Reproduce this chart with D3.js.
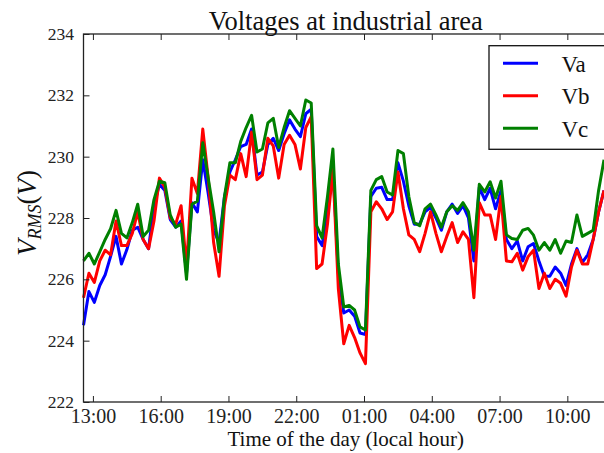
<!DOCTYPE html>
<html>
<head>
<meta charset="utf-8">
<script src="https://cdn.jsdelivr.net/npm/d3@7"></script>
<style>
  body { margin: 0; background: #fff; }
  svg { display: block; font-family: "Liberation Serif", serif; }
  .axis text { font-family: "Liberation Serif", serif; fill: #222; }
  .axis line { stroke: #222; }
</style>
</head>
<body>
<div id="chart"></div>
<script>
// sample grid of the logger (first sample, minutes between samples)
const startTime = new Date(2016, 0, 1, 12, 35);
const stepMinutes = 14.4;
const axisEnd = new Date(2016, 0, 2, 11, 48);

const yTicks = [222, 224, 226, 228, 230, 232, 234];
const xTickHours = [13, 16, 19, 22, 1, 4, 7, 10];

const seriesNames = ['Va', 'Vb', 'Vc'];
const seriesColors = ['#0000ff', '#ff0000', '#008000'];

const va = [224.5, 225.6, 225.25, 225.8, 226.15, 226.75, 227.4, 226.5, 226.97, 227.6,
  227.7, 227.3, 227.0, 228.4, 229.1, 228.9, 227.95, 227.7, 227.9, 226.2,
  228.5, 228.2, 229.9, 228.8, 227.6, 227.2, 228.7, 229.5, 229.9, 230.33,
  230.4, 230.9, 229.4, 229.5, 230.4, 230.6, 230.2, 230.75, 231.2, 230.9,
  230.65, 231.4, 231.55, 227.4, 227.1, 228.2, 229.65, 226.2, 224.9, 225.0,
  224.8, 224.25, 224.2, 228.7, 228.97, 229.0, 228.6, 228.6, 229.8, 229.2,
  228.4, 227.8, 227.8, 228.2, 228.35, 228.0, 227.6, 228.2, 228.45, 228.15,
  228.4, 228.0, 226.6, 229.0, 228.6, 228.97, 228.3, 228.9, 227.3, 227.0,
  227.25, 226.6, 227.06, 227.17, 226.6, 226.1, 226.1, 226.4, 226.2, 225.8,
  226.5, 227.0, 226.55, 226.8, 227.3, 228.2, 228.9];

const vb = [225.4, 226.2, 225.9, 226.6, 226.95, 226.8, 227.9, 227.1, 227.1, 227.5,
  228.2, 227.3, 227.0, 227.9, 229.3, 229.0, 228.0, 227.8, 228.4, 226.4,
  229.3, 228.8, 230.9, 229.3, 227.2, 226.1, 228.4, 229.4, 229.25, 230.1,
  229.35, 230.8, 229.25, 229.4, 230.6, 230.35, 229.3, 230.4, 230.7, 230.4,
  229.6, 230.95, 231.3, 226.35, 226.5, 227.8, 229.6, 225.7, 223.9, 224.5,
  224.1, 223.6, 223.25, 228.2, 228.53, 228.3, 227.95, 228.2, 229.5, 228.3,
  227.45, 227.3, 226.9, 227.5, 228.2, 227.5, 226.9, 227.4, 227.85, 227.2,
  227.55, 227.3, 225.4, 228.5, 228.1, 228.1, 227.3, 228.7, 226.6, 226.57,
  226.85, 226.3, 226.74, 226.95, 225.7, 226.2, 225.7, 226.0, 225.87, 225.45,
  226.4, 226.95, 226.5, 226.5, 227.3, 228.2, 228.9];

const vc = [226.6, 226.85, 226.5, 226.9, 227.3, 227.65, 228.25, 227.5, 227.35, 227.85,
  228.45, 227.4, 227.6, 228.6, 229.2, 229.15, 228.1, 227.7, 227.8, 226.0,
  228.45, 228.55, 230.45, 229.3, 228.2, 226.9, 228.7, 229.8, 229.8, 230.5,
  230.95, 231.35, 230.15, 230.25, 231.1, 231.25, 230.3, 230.95, 231.5, 231.25,
  231.0, 231.85, 231.75, 227.75, 227.35, 228.7, 230.25, 226.5, 225.1, 225.15,
  225.0, 224.45, 224.35, 228.9, 229.25, 229.35, 228.85, 228.75, 230.2, 230.1,
  228.7, 227.85, 227.75, 228.3, 228.45, 228.1, 227.7, 228.2, 228.4, 228.25,
  228.5, 228.2, 226.95, 229.1, 228.85, 229.18, 228.65, 229.2, 227.45, 227.33,
  227.3, 227.6, 227.66, 227.44, 226.95, 227.2, 226.95, 227.3, 226.85, 227.25,
  227.2, 228.1, 227.4, 227.5, 227.6, 228.9, 229.9];

const width = 604;
const height = 453;
const plot = { left: 83.5, right: 608, top: 34, bottom: 402 };

const times = va.map((_, i) => new Date(startTime.getTime() + i * stepMinutes * 60000));
const series = [va, vb, vc].map((values, k) => ({
  name: seriesNames[k],
  color: seriesColors[k],
  points: values.map((v, i) => ({ t: times[i], v }))
}));

const svg = d3.select('#chart').append('svg')
  .attr('width', width)
  .attr('height', height);

const xScale = d3.scaleTime().domain([startTime, axisEnd]).range([plot.left, plot.right]);
const yScale = d3.scaleLinear().domain([222, 234]).range([plot.bottom, plot.top]);

const xTickDates = xTickHours.map((h) => new Date(2016, 0, h < 12 ? 2 : 1, h, 0));

// lines
const line = d3.line().x((d) => xScale(d.t)).y((d) => yScale(d.v));
svg.append('g').selectAll('path').data(series).join('path')
  .attr('d', (d) => line(d.points))
  .attr('fill', 'none')
  .attr('stroke', (d) => d.color)
  .attr('stroke-width', 3)
  .attr('stroke-linejoin', 'round');

// axes with inward ticks
const xAxis = svg.append('g').attr('class', 'axis')
  .attr('transform', `translate(0,${plot.bottom})`)
  .call(d3.axisBottom(xScale).tickValues(xTickDates)
    .tickFormat(d3.timeFormat('%H:%M')).tickSizeInner(-6).tickSizeOuter(0).tickPadding(7));
xAxis.select('.domain').remove();
xAxis.selectAll('text').style('font-size', '20px');

svg.append('g').attr('class', 'axis')
  .attr('transform', `translate(0,${plot.top})`)
  .call(d3.axisTop(xScale).tickValues(xTickDates).tickFormat('').tickSizeInner(-6).tickSizeOuter(0))
  .select('.domain').remove();

const yAxis = svg.append('g').attr('class', 'axis')
  .attr('transform', `translate(${plot.left},0)`)
  .call(d3.axisLeft(yScale).tickValues(yTicks).tickFormat(d3.format('d'))
    .tickSizeInner(-6).tickSizeOuter(0).tickPadding(9.5));
yAxis.select('.domain').remove();
yAxis.selectAll('text').style('font-size', '17.5px');

// frame
svg.append('rect')
  .attr('x', plot.left).attr('y', plot.top)
  .attr('width', plot.right - plot.left).attr('height', plot.bottom - plot.top)
  .attr('fill', 'none').attr('stroke', '#222').attr('stroke-width', 1.3);

// title and axis labels
svg.append('text')
  .attr('x', (plot.left + plot.right) / 2).attr('y', 30)
  .attr('text-anchor', 'middle').style('font-size', '26.5px').attr('fill', '#111')
  .text('Voltages at industrial area');

svg.append('text')
  .attr('x', (plot.left + plot.right) / 2).attr('y', 446)
  .attr('text-anchor', 'middle').style('font-size', '21px').attr('fill', '#111')
  .text('Time of the day (local hour)');

const ylab = svg.append('text')
  .attr('transform', 'translate(36,213) rotate(-90)')
  .attr('text-anchor', 'middle').style('font-size', '27px').attr('fill', '#111');
ylab.append('tspan').style('font-style', 'italic').text('V');
ylab.append('tspan').style('font-style', 'italic').style('font-size', '18px').attr('dy', 5).text('RMS');
ylab.append('tspan').attr('dy', -5).text('(');
ylab.append('tspan').style('font-style', 'italic').text('V');
ylab.append('tspan').text(')');

// legend
const legend = svg.append('g');
legend.append('rect')
  .attr('x', 489).attr('y', 45.7).attr('width', 130).attr('height', 103.6)
  .attr('fill', '#fff').attr('stroke', '#111').attr('stroke-width', 1.3);
const items = legend.selectAll('g.item').data(series).join('g')
  .attr('class', 'item')
  .attr('transform', (d, i) => `translate(0,${63.3 + i * 32.5})`);
items.append('line')
  .attr('x1', 503).attr('x2', 538)
  .attr('stroke', (d) => d.color).attr('stroke-width', 3);
items.append('text')
  .attr('x', 561.5).attr('y', 8.5)
  .style('font-size', '23px').attr('fill', '#111')
  .text((d) => d.name);
</script>
</body>
</html>
